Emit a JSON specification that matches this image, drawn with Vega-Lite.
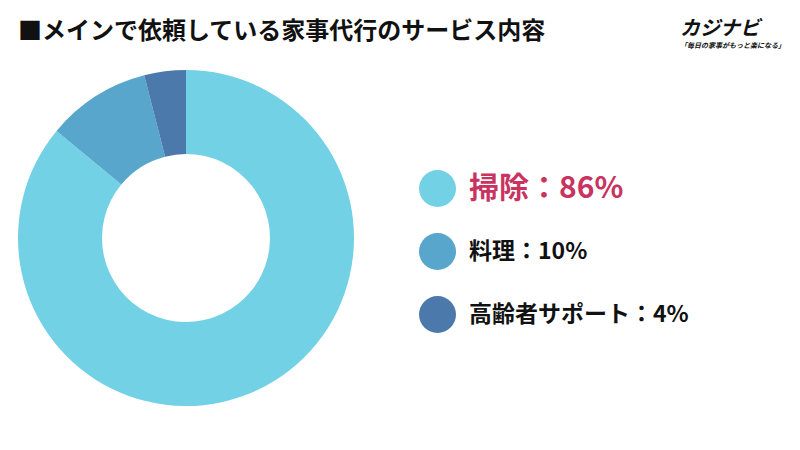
{
  "$schema": "https://vega.github.io/schema/vega-lite/v6.json",
  "background": "white",
  "padding": {"left": 18, "top": 19, "right": 0, "bottom": 0},
  "bounds": "flush",
  "spacing": 326,
  "config": {"view": {"stroke": null}, "font": "Noto Sans CJK JP"},
  "resolve": {"scale": {"color": "independent"}, "legend": {"color": "independent"}},
  "hconcat": [
    {
      "width": 336,
      "height": 336,
      "title": {
        "text": "■メインで依頼している家事代行のサービス内容",
        "anchor": "start",
        "fontSize": 24,
        "fontWeight": "bold",
        "color": "#111111",
        "font": "Noto Sans CJK JP",
        "offset": 26
      },
      "data": {
        "values": [
          {"サービス": "掃除", "割合": 86, "ラベル": "掃除：86%"},
          {"サービス": "料理", "割合": 10, "ラベル": "料理：10%"},
          {"サービス": "高齢者サポート", "割合": 4, "ラベル": "高齢者サポート：4%"}
        ]
      },
      "mark": {"type": "arc", "outerRadius": 168, "innerRadius": 84},
      "encoding": {
        "theta": {"field": "割合", "type": "quantitative", "stack": true},
        "order": {"field": "割合", "type": "quantitative", "sort": "descending"},
        "color": {
          "field": "ラベル",
          "type": "nominal",
          "sort": null,
          "scale": {
            "domain": ["掃除：86%", "料理：10%", "高齢者サポート：4%"],
            "range": ["#72d1e4", "#58a6cc", "#4c79ac"]
          },
          "legend": {
            "orient": "none",
            "legendX": 401,
            "legendY": 100,
            "title": null,
            "symbolType": "circle",
            "symbolSize": 1369,
            "symbolStrokeWidth": 0,
            "symbolOpacity": 1,
            "labelFont": "Noto Sans CJK JP",
            "labelFontWeight": "bold",
            "labelFontSize": 23,
            "labelColor": "#111111",
            "labelOffset": 13,
            "labelLimit": 400,
            "rowPadding": 26,
            "padding": 0,
            "encode": {
              "labels": {
                "update": {
                  "fill": {"signal": "datum.index === 0 ? '#c9335f' : '#111111'"},
                  "fontSize": {"signal": "datum.index === 0 ? 30 : 23"}
                }
              }
            }
          }
        }
      }
    },
    {
      "width": 100,
      "height": 336,
      "title": {
        "text": "カジナビ",
        "subtitle": "「毎日の家事がもっと楽になる」",
        "anchor": "start",
        "font": "Noto Sans CJK JP",
        "fontSize": 20,
        "fontStyle": "italic",
        "fontWeight": "bold",
        "color": "#111111",
        "subtitleFont": "Noto Sans CJK JP",
        "subtitleFontSize": 7,
        "subtitleFontStyle": "italic",
        "subtitleFontWeight": "bold",
        "subtitleColor": "#111111",
        "subtitlePadding": 3,
        "offset": 21
      },
      "data": {"values": []},
      "mark": "point",
      "encoding": {}
    }
  ]
}
